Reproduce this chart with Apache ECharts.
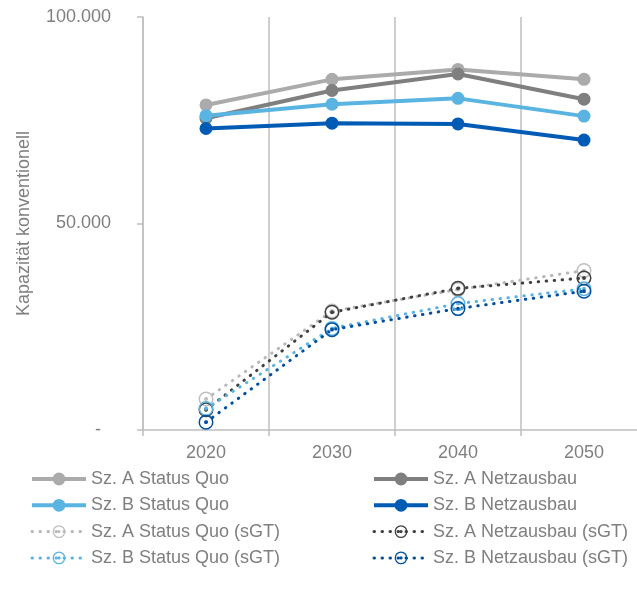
<!DOCTYPE html>
<html>
<head>
<meta charset="utf-8">
<script src="https://cdn.jsdelivr.net/npm/echarts@6/dist/echarts.min.js"></script>
<style>html,body{margin:0;padding:0;background:#fff;overflow:hidden;width:637px;height:596px}#c{width:647px;height:596px}</style>
</head>
<body>
<div id="c"></div>
<script>
var years = ['2020', '2030', '2040', '2050'];
var yTicks = [0, 50000, 100000];
var aStatusQuo = [78700, 84900, 87300, 84900];
var aNetzausbau = [75500, 82200, 86200, 80100];
var bStatusQuo = [76100, 78900, 80300, 76000];
var bNetzausbau = [73000, 74300, 74100, 70200];
var aStatusQuoSGT = [7500, 28800, 34000, 38600];
var aNetzausbauSGT = [4900, 28500, 34300, 36800];
var bStatusQuoSGT = [5200, 24600, 30600, 34200];
var bNetzausbauSGT = [1900, 24300, 29400, 33600];

var FONT = "'Liberation Sans', Arial, sans-serif";
var TXT = '#7f7f7f';
var GRID = '#bfbfbf';
var RING = 'path://M50,0 A50,50 0 1,1 50,100 A50,50 0 1,1 50,0 Z M50,10 A40,40 0 1,0 50,90 A40,40 0 1,0 50,10 Z M50,37 A13,13 0 1,1 50,63 A13,13 0 1,1 50,37 Z';

function solid(name, data, color) {
  return {
    name: name, type: 'line', data: data, symbol: 'circle', symbolSize: 13,
    lineStyle: {color: color, width: 4}, itemStyle: {color: color},
    emphasis: {disabled: true}, z: 3
  };
}
function dotted(name, data, color, ringColor) {
  return {
    name: name, type: 'line', data: data, symbol: RING, symbolSize: 15,
    lineStyle: {color: color, width: 3, type: [0.5, 7.5], cap: 'round'},
    itemStyle: {color: ringColor || color, borderWidth: 0},
    emphasis: {disabled: true}, z: 2
  };
}

var fmt = function (v) {
  if (v === 0) return '-  ';
  return String(v).replace(/\B(?=(\d{3})+(?!\d))/g, '.');
};

var legendBase = {
  orient: 'vertical', top: 465, itemWidth: 54, itemHeight: 16, itemGap: 8.3,
  lineStyle: {width: 'inherit'},
  textStyle: {color: TXT, fontSize: 18, fontFamily: FONT}
};

var chart = echarts.init(document.getElementById('c'));
chart.setOption({
  animation: false,
  textStyle: {fontFamily: FONT},
  grid: {left: 143, top: 17, bottom: 166, right: 0, containLabel: false},
  xAxis: {
    type: 'category', data: years, boundaryGap: true,
    axisLine: {lineStyle: {color: GRID, width: 1.5}},
    axisTick: {show: true, length: 6, lineStyle: {color: GRID, width: 1.5}},
    splitLine: {show: true, lineStyle: {color: GRID, width: 1.5}},
    axisLabel: {color: TXT, fontSize: 18, fontFamily: FONT, margin: 14}
  },
  yAxis: {
    type: 'value', min: yTicks[0], max: yTicks[2], interval: yTicks[1] - yTicks[0],
    name: 'Kapazität konventionell', nameLocation: 'middle', nameGap: 110,
    nameTextStyle: {color: TXT, fontSize: 18, fontFamily: FONT},
    axisLine: {show: true, lineStyle: {color: GRID, width: 1.5}},
    axisTick: {show: true, length: 6, lineStyle: {color: GRID, width: 1.5}},
    splitLine: {show: false},
    axisLabel: {color: TXT, fontSize: 18, fontFamily: FONT, margin: 32, formatter: fmt}
  },
  legend: [
    Object.assign({}, legendBase, {
      left: 25,
      data: ['Sz. A Status Quo', 'Sz. B Status Quo', 'Sz. A Status Quo (sGT)', 'Sz. B Status Quo (sGT)']
    }),
    Object.assign({}, legendBase, {
      left: 367,
      data: ['Sz. A Netzausbau', 'Sz. B Netzausbau', 'Sz. A Netzausbau (sGT)', 'Sz. B Netzausbau (sGT)']
    })
  ],
  series: [
    solid('Sz. A Status Quo', aStatusQuo, '#ababab'),
    solid('Sz. A Netzausbau', aNetzausbau, '#7f7f7f'),
    solid('Sz. B Status Quo', bStatusQuo, '#5ab4e1'),
    solid('Sz. B Netzausbau', bNetzausbau, '#005bb5'),
    dotted('Sz. A Status Quo (sGT)', aStatusQuoSGT, '#b8b8b8', '#bfbfbf'),
    dotted('Sz. A Netzausbau (sGT)', aNetzausbauSGT, '#404040'),
    dotted('Sz. B Status Quo (sGT)', bStatusQuoSGT, '#5ab4e1'),
    dotted('Sz. B Netzausbau (sGT)', bNetzausbauSGT, '#0050a0')
  ]
});
</script>
</body>
</html>
